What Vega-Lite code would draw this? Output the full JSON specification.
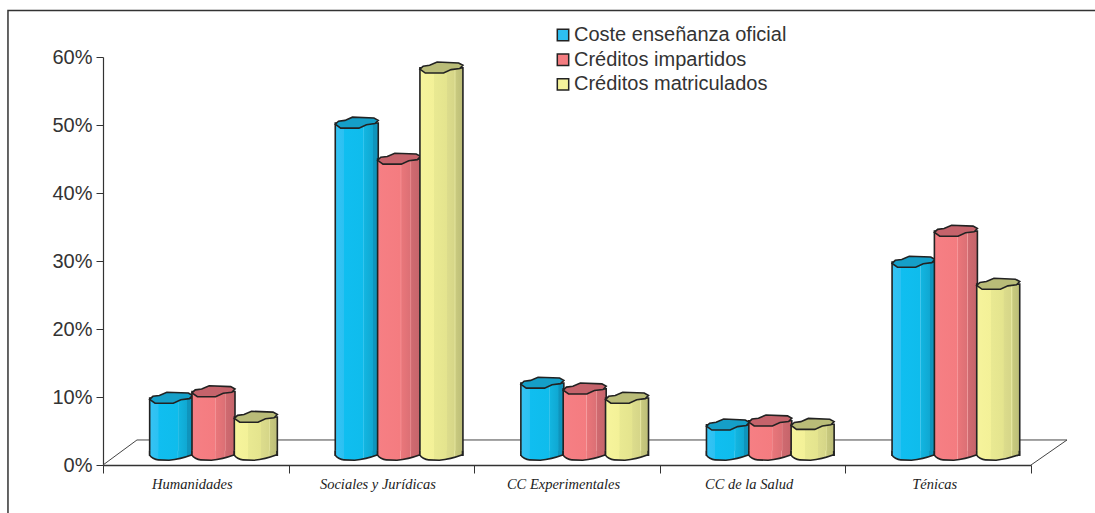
{"$schema":"https://vega.github.io/schema/vega-lite/v6.json","width":928,"height":408,"autosize":"none","padding":{"left":103,"top":57,"right":64,"bottom":48},"background":"white","config":{"view":{"stroke":null}},
"datasets":{"rows":[
{"area":"Humanidades","serie":"Coste enseñanza oficial","pct":9.85},{"area":"Humanidades","serie":"Créditos impartidos","pct":10.8},{"area":"Humanidades","serie":"Créditos matriculados","pct":7.05},
{"area":"Sociales y Jurídicas","serie":"Coste enseñanza oficial","pct":50.3},{"area":"Sociales y Jurídicas","serie":"Créditos impartidos","pct":45},{"area":"Sociales y Jurídicas","serie":"Créditos matriculados","pct":58.4},
{"area":"CC Experimentales","serie":"Coste enseñanza oficial","pct":12.06},{"area":"CC Experimentales","serie":"Créditos impartidos","pct":11.2},{"area":"CC Experimentales","serie":"Créditos matriculados","pct":9.85},
{"area":"CC de la Salud","serie":"Coste enseñanza oficial","pct":5.9},{"area":"CC de la Salud","serie":"Créditos impartidos","pct":6.5},{"area":"CC de la Salud","serie":"Créditos matriculados","pct":6},
{"area":"Ténicas","serie":"Coste enseñanza oficial","pct":29.85},{"area":"Ténicas","serie":"Créditos impartidos","pct":34.4},{"area":"Ténicas","serie":"Créditos matriculados","pct":26.6}],
"floor":[{"c":0,"p":0,"o":1},{"c":0.183,"p":3.68,"o":2},{"c":5.194,"p":3.68,"o":3},{"c":5,"p":0,"o":4}],
"frame":[{"c":-0.512,"p":-7.06,"o":1},{"c":-0.512,"p":66.85,"o":2},{"c":5.4,"p":66.85,"o":3}]},
"resolve":{"scale":{"x":"independent"}},
"layer":[
{"encoding":{"y":{"field":"p","type":"quantitative","scale":{"domain":[0,60],"nice":false},"axis":{"title":null,"values":[0,10,20,30,40,50,60],"labelExpr":"datum.value+'%'","grid":false,"labelFont":"Liberation Sans","labelFontSize":20,"labelColor":"#333333","domainColor":"#333333","domainWidth":1.2,"tickColor":"#333333","tickSize":7,"labelPadding":4}}},
"layer":[
{"data":{"name":"frame"},"mark":{"type":"line","stroke":"#333333","strokeWidth":1.5,"clip":false},"encoding":{"x":{"field":"c","type":"quantitative","scale":{"domain":[0,5],"nice":false,"zero":false},"axis":null},"order":{"field":"o"}}},
{"data":{"name":"floor"},"mark":{"type":"line","stroke":"#444444","strokeWidth":1,"clip":false},"encoding":{"x":{"field":"c","type":"quantitative","scale":{"domain":[0,5],"nice":false,"zero":false},"axis":null},"order":{"field":"o"}}}
]},
{"data":{"name":"rows"},
"encoding":{"x":{"field":"area","type":"nominal","sort":null,"scale":{"paddingInner":0,"paddingOuter":0},"axis":{"title":null,"labelAngle":0,"labelFont":"Liberation Serif","labelFontStyle":"italic","labelFontSize":14.5,"labelColor":"#222222","domainColor":"#333333","domainWidth":1.5,"tickColor":"#333333","tickSize":8,"tickBand":"extent","labelPadding":4,"labelOffset":-4}},
"xOffset":{"field":"serie","type":"nominal","sort":null,"scale":{"range":[47,174]}},
"y":{"field":"pct","type":"quantitative","stack":null,"scale":{"domain":[0,60],"nice":false},"axis":{"title":null,"values":[0,10,20,30,40,50,60],"labelExpr":"datum.value+'%'","grid":false,"labelFont":"Liberation Sans","labelFontSize":20,"labelColor":"#333333","domainColor":"#333333","domainWidth":1.2,"tickColor":"#333333","tickSize":7,"labelPadding":4}}},
"layer":[
{"mark":{"type":"bar","width":43},"encoding":{"y2":{"datum":1.45},"color":{"field":"serie","type":"nominal","sort":null,"scale":{"domain":["Coste enseñanza oficial","Créditos impartidos","Créditos matriculados"],"range":["#2dbff2","#f47c80","#f5f39b"]},"legend":{"title":null,"orient":"none","legendX":450,"legendY":-32,"symbolType":"square","symbolSize":130,"symbolStrokeColor":"#222222","symbolStrokeWidth":1.5,"labelFont":"Liberation Sans","labelFontSize":20,"labelColor":"#333333","labelOffset":1,"labelLimit":320,"rowPadding":4.7,"symbolOpacity":1}}}},
{"transform":[{"filter":"datum.serie==='Coste enseñanza oficial'"}],"mark":{"type":"bar","width":43,"stroke":"#222222","strokeWidth":1.6,"fill":{"gradient":"linear","x1":0,"x2":1,"y1":0,"y2":0,"stops":[{"offset":0,"color":"#35c3f4"},{"offset":0.2,"color":"#2cc1f2"},{"offset":0.21,"color":"#10bef0"},{"offset":0.65,"color":"#0fbcec"},{"offset":0.66,"color":"#45c8ee"},{"offset":0.68,"color":"#12b5e0"},{"offset":0.87,"color":"#10a8d2"},{"offset":0.88,"color":"#0f94bc"},{"offset":1,"color":"#0f94bc"}]}},"encoding":{"y2":{"datum":1.45}}},
{"transform":[{"filter":"datum.serie==='Coste enseñanza oficial'"}],"mark":{"type":"point","filled":true,"opacity":1,"size":1849,"shape":"M -1 -0.2 L -1 0 C -0.95 0.1 -0.75 0.22 -0.6 0.22 L -0.1 0.24 C 0.3 0.2 0.6 0.12 0.98 -0.02 L 0.98 -0.2","strokeWidth":1.6,"stroke":"#222222","fill":{"gradient":"linear","x1":0,"x2":1,"y1":0,"y2":0,"stops":[{"offset":0,"color":"#35c3f4"},{"offset":0.2,"color":"#2cc1f2"},{"offset":0.21,"color":"#10bef0"},{"offset":0.65,"color":"#0fbcec"},{"offset":0.66,"color":"#45c8ee"},{"offset":0.68,"color":"#12b5e0"},{"offset":0.87,"color":"#10a8d2"},{"offset":0.88,"color":"#0f94bc"},{"offset":1,"color":"#0f94bc"}]}},"encoding":{"y":{"datum":1.45}}},
{"transform":[{"filter":"datum.serie==='Coste enseñanza oficial'"}],"mark":{"type":"point","filled":true,"opacity":1,"size":1849,"shape":"M -1 0.06 L -0.85 -0.08 L -0.55 -0.12 L -0.2 -0.27 L 0.8 -0.23 L 1 -0.12 L 0.85 0.03 L 0.45 0.08 L 0.1 0.24 L -0.75 0.24 Z","strokeWidth":1.6,"stroke":"#222222","fill":"#159fc8"}},
{"transform":[{"filter":"datum.serie==='Créditos impartidos'"}],"mark":{"type":"bar","width":43,"stroke":"#222222","strokeWidth":1.6,"fill":{"gradient":"linear","x1":0,"x2":1,"y1":0,"y2":0,"stops":[{"offset":0,"color":"#f67f84"},{"offset":0.53,"color":"#f47c80"},{"offset":0.54,"color":"#f7a0a3"},{"offset":0.56,"color":"#e9767a"},{"offset":0.76,"color":"#dc7075"},{"offset":0.77,"color":"#ee9a9c"},{"offset":0.79,"color":"#cf6a70"},{"offset":1,"color":"#c5646a"}]}},"encoding":{"y2":{"datum":1.45}}},
{"transform":[{"filter":"datum.serie==='Créditos impartidos'"}],"mark":{"type":"point","filled":true,"opacity":1,"size":1849,"shape":"M -1 -0.2 L -1 0 C -0.95 0.1 -0.75 0.22 -0.6 0.22 L -0.1 0.24 C 0.3 0.2 0.6 0.12 0.98 -0.02 L 0.98 -0.2","strokeWidth":1.6,"stroke":"#222222","fill":{"gradient":"linear","x1":0,"x2":1,"y1":0,"y2":0,"stops":[{"offset":0,"color":"#f67f84"},{"offset":0.53,"color":"#f47c80"},{"offset":0.54,"color":"#f7a0a3"},{"offset":0.56,"color":"#e9767a"},{"offset":0.76,"color":"#dc7075"},{"offset":0.77,"color":"#ee9a9c"},{"offset":0.79,"color":"#cf6a70"},{"offset":1,"color":"#c5646a"}]}},"encoding":{"y":{"datum":1.45}}},
{"transform":[{"filter":"datum.serie==='Créditos impartidos'"}],"mark":{"type":"point","filled":true,"opacity":1,"size":1849,"shape":"M -1 0.06 L -0.85 -0.08 L -0.55 -0.12 L -0.2 -0.27 L 0.8 -0.23 L 1 -0.12 L 0.85 0.03 L 0.45 0.08 L 0.1 0.24 L -0.75 0.24 Z","strokeWidth":1.6,"stroke":"#222222","fill":"#c5636b"}},
{"transform":[{"filter":"datum.serie==='Créditos matriculados'"}],"mark":{"type":"bar","width":43,"stroke":"#222222","strokeWidth":1.6,"fill":{"gradient":"linear","x1":0,"x2":1,"y1":0,"y2":0,"stops":[{"offset":0,"color":"#f6f49c"},{"offset":0.32,"color":"#f3f198"},{"offset":0.33,"color":"#e9e992"},{"offset":0.62,"color":"#e4e48e"},{"offset":0.63,"color":"#dcdc8c"},{"offset":0.8,"color":"#d6d688"},{"offset":0.81,"color":"#e8e8a2"},{"offset":0.84,"color":"#c8c97e"},{"offset":1,"color":"#bcbd78"}]}},"encoding":{"y2":{"datum":1.45}}},
{"transform":[{"filter":"datum.serie==='Créditos matriculados'"}],"mark":{"type":"point","filled":true,"opacity":1,"size":1849,"shape":"M -1 -0.2 L -1 0 C -0.95 0.1 -0.75 0.22 -0.6 0.22 L -0.1 0.24 C 0.3 0.2 0.6 0.12 0.98 -0.02 L 0.98 -0.2","strokeWidth":1.6,"stroke":"#222222","fill":{"gradient":"linear","x1":0,"x2":1,"y1":0,"y2":0,"stops":[{"offset":0,"color":"#f6f49c"},{"offset":0.32,"color":"#f3f198"},{"offset":0.33,"color":"#e9e992"},{"offset":0.62,"color":"#e4e48e"},{"offset":0.63,"color":"#dcdc8c"},{"offset":0.8,"color":"#d6d688"},{"offset":0.81,"color":"#e8e8a2"},{"offset":0.84,"color":"#c8c97e"},{"offset":1,"color":"#bcbd78"}]}},"encoding":{"y":{"datum":1.45}}},
{"transform":[{"filter":"datum.serie==='Créditos matriculados'"}],"mark":{"type":"point","filled":true,"opacity":1,"size":1849,"shape":"M -1 0.06 L -0.85 -0.08 L -0.55 -0.12 L -0.2 -0.27 L 0.8 -0.23 L 1 -0.12 L 0.85 0.03 L 0.45 0.08 L 0.1 0.24 L -0.75 0.24 Z","strokeWidth":1.6,"stroke":"#222222","fill":"#b9bc78"}}
]}
]}
